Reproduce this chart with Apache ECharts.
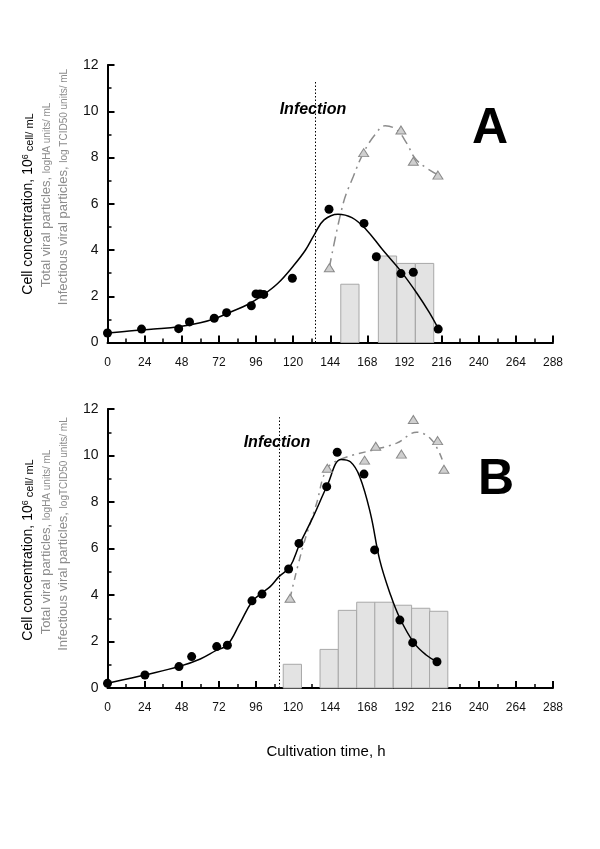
<!DOCTYPE html>
<html>
<head>
<meta charset="utf-8">
<script src="https://cdn.jsdelivr.net/npm/echarts@6/dist/echarts.min.js"></script>
<style>
html,body{margin:0;padding:0;background:#fff;}
#chart{width:600px;height:849px;}
</style>
</head>
<body>
<div id="chart"></div>
<script>
// ---- Axis settings ----
const X_MIN = 0, X_MAX = 288, X_STEP = 24;
const Y_MIN = 0, Y_MAX = 12, Y_STEP = 2;

// ---- Panel A ----
const cellTimeA = [0, 22, 46, 53, 69, 77, 93, 96, 98.6, 101, 119.5, 143.2, 165.8, 173.8, 189.7, 197.7, 213.8];
const cellA     = [0.41, 0.58, 0.60, 0.89, 1.05, 1.29, 1.59, 2.10, 2.10, 2.08, 2.78, 5.76, 5.15, 3.71, 2.98, 3.04, 0.58];
const fitTimeA  = [0, 14, 30, 46, 60, 70, 80, 90, 100, 110, 120, 128, 134, 140, 149, 158, 167, 178, 189, 200, 208, 214];
const fitA      = [0.41, 0.5, 0.58, 0.68, 0.85, 1.05, 1.33, 1.62, 2.03, 2.55, 3.3, 4.0, 4.7, 5.3, 5.55, 5.4, 4.9, 4.0, 3.14, 2.13, 1.3, 0.58];
const virTimeA  = [143.4, 165.6, 189.7, 197.7, 213.6];
const virA      = [3.23, 8.21, 9.19, 7.84, 7.24];
const virFitTimeA = [143.4, 152.4, 158.9, 165.6, 172.9, 179.4, 186.9, 193.4, 198.8, 206.3, 213.6];
const virFitA     = [3.23, 6.02, 7.18, 8.22, 8.98, 9.37, 9.2, 8.62, 7.97, 7.54, 7.25];
const barTimeA  = [156.7, 181, 193, 205];
const barA      = [2.52, 3.74, 3.42, 3.42];
const infectionA = 134.1, infectionTopA = 11.3;

// ---- Panel B ----
const cellTimeB = [0, 24.2, 46.2, 54.4, 70.6, 77.5, 93.4, 99.9, 117.1, 123.8, 141.7, 148.5, 165.8, 172.7, 189, 197.3, 213];
const cellB     = [0.2, 0.56, 0.92, 1.35, 1.78, 1.84, 3.75, 4.04, 5.12, 6.22, 8.66, 10.14, 9.2, 5.94, 2.92, 1.95, 1.13];
const fitTimeB  = [0, 14, 24, 46, 60, 70.6, 77.5, 85.6, 93.4, 100, 105, 111, 118, 124, 133, 142, 151, 157, 163, 170, 176, 183, 189, 198, 206, 213];
const fitB      = [0.2, 0.41, 0.56, 0.92, 1.25, 1.63, 1.85, 2.78, 3.71, 4.1, 4.35, 4.8, 5.22, 6.15, 7.37, 8.7, 9.83, 9.73, 9.1, 7.5, 5.5, 4.0, 3.0, 1.95, 1.42, 1.13];
const virTimeB  = [118, 142.1, 166.2, 173.4, 190, 197.7, 213.4, 217.5];
const virB      = [3.86, 9.45, 9.8, 10.4, 10.06, 11.55, 10.64, 9.41];
const virFitTimeB = [118, 126, 135, 142.1, 152.4, 171.8, 186.9, 199.9, 209.6, 216.5];
const virFitB     = [3.86, 6.0, 7.9, 9.45, 9.88, 10.24, 10.53, 11.0, 10.67, 9.8];
const barTimeB  = [119.5, 143.3, 155.1, 167, 178.7, 190.7, 202.5, 214.1];
const barB      = [1.02, 1.66, 3.34, 3.69, 3.69, 3.56, 3.43, 3.30];
const infectionB = 110.9, infectionTopB = 11.65;

const BAR_HALF = 5.9; // hours
const FONT = '"Liberation Sans", Arial, sans-serif';
const GRAY = '#8c8c8c';

const zip = (a, b) => a.map((v, i) => [v, b[i]]);

function xAxis(idx) {
  return {
    type: 'value', gridIndex: idx, min: X_MIN, max: X_MAX, interval: X_STEP,
    axisLine: { show: true, onZero: false, lineStyle: { color: '#000', width: 2 } },
    axisTick: { show: true, inside: true, length: 7, lineStyle: { color: '#000', width: 2 } },
    minorTick: { show: true, splitNumber: 2, length: 4, lineStyle: { color: '#000', width: 1.5 } },
    axisLabel: { color: '#111', fontSize: 12, fontFamily: FONT, margin: 14 },
    splitLine: { show: false }
  };
}
function yAxis(idx) {
  return {
    type: 'value', gridIndex: idx, min: Y_MIN, max: Y_MAX, interval: Y_STEP,
    axisLine: { show: true, onZero: false, lineStyle: { color: '#000', width: 2 } },
    axisTick: { show: true, inside: true, length: 7, lineStyle: { color: '#000', width: 2 } },
    minorTick: { show: true, splitNumber: 2, length: 4, lineStyle: { color: '#000', width: 1.5 } },
    axisLabel: { color: '#111', fontSize: 14, fontFamily: FONT, margin: 9 },
    splitLine: { show: false }
  };
}

function barSeries(idx, t, v) {
  return {
    type: 'custom', xAxisIndex: idx, yAxisIndex: idx, z: 1,
    data: zip(t, v),
    encode: { x: 0, y: 1 },
    renderItem: function (params, api) {
      const c = api.value(0), val = api.value(1);
      const p1 = api.coord([c - BAR_HALF, val]);
      const p0 = api.coord([c + BAR_HALF, 0]);
      return {
        type: 'rect',
        shape: { x: p1[0], y: p1[1], width: p0[0] - p1[0], height: p0[1] - p1[1] },
        style: { fill: '#e3e3e3', stroke: '#a8a8a8', lineWidth: 1 }
      };
    }
  };
}
function fitLine(idx, t, v) {
  return {
    type: 'line', xAxisIndex: idx, yAxisIndex: idx, z: 3, smooth: 0.4,
    showSymbol: false, symbol: 'none', data: zip(t, v),
    lineStyle: { color: '#000', width: 1.5 }
  };
}
function virLine(idx, t, v, dash, inf, infTop) {
  return {
    type: 'line', xAxisIndex: idx, yAxisIndex: idx, z: 2, smooth: 0.4,
    showSymbol: false, symbol: 'none', data: zip(t, v),
    lineStyle: { color: GRAY, width: 1.5, type: dash },
    markLine: {
      silent: true, symbol: ['none', 'none'], label: { show: false },
      lineStyle: { color: '#000', width: 1, type: [1.5, 2] },
      data: [[{ coord: [inf, 0] }, { coord: [inf, infTop] }]]
    }
  };
}
function cellPts(idx, t, v) {
  return {
    type: 'scatter', xAxisIndex: idx, yAxisIndex: idx, z: 5,
    symbol: 'circle', symbolSize: 9, data: zip(t, v),
    itemStyle: { color: '#000', opacity: 1 }
  };
}
function virPts(idx, t, v) {
  return {
    type: 'scatter', xAxisIndex: idx, yAxisIndex: idx, z: 4,
    symbol: 'triangle', symbolSize: [10, 8], data: zip(t, v),
    itemStyle: { color: '#cfcfcf', borderColor: '#8a8a8a', borderWidth: 1, opacity: 1 }
  };
}

function yTitle(cx, cy, main, small, color, mainSize, smallSize, sup) {
  let text = '{a|' + main + '}';
  if (sup) text += '{s|' + sup + '}';
  text += '{b|' + small + '}';
  return {
    type: 'text', x: cx, y: cy, rotation: Math.PI / 2,
    style: {
      text: text, align: 'center', verticalAlign: 'middle',
      textAlign: 'center', textVerticalAlign: 'middle',
      rich: {
        a: { fontSize: mainSize, fontFamily: FONT, fill: color, color: color, verticalAlign: 'bottom' },
        s: { fontSize: smallSize - 2, fontFamily: FONT, fill: color, color: color, verticalAlign: 'top' },
        b: { fontSize: smallSize, fontFamily: FONT, fill: color, color: color, verticalAlign: 'bottom', padding: [2, 0, 0, 0] }
      }
    }
  };
}
function plainText(x, y, text, font, color) {
  return {
    type: 'text', x: x, y: y,
    style: { text: text, font: font, fill: color || '#000', align: 'center', verticalAlign: 'middle',
             textAlign: 'center', textVerticalAlign: 'middle' }
  };
}

const chart = echarts.init(document.getElementById('chart'), null, { renderer: 'canvas' });
chart.setOption({
  backgroundColor: '#fff',
  animation: false,
  grid: [
    { left: 107.5, top: 65, width: 445.5, height: 277.5 },
    { left: 107.5, top: 409, width: 445.5, height: 279 }
  ],
  xAxis: [xAxis(0), xAxis(1)],
  yAxis: [yAxis(0), yAxis(1)],
  series: [
    barSeries(0, barTimeA, barA),
    virLine(0, virFitTimeA, virFitA, [10, 5, 2, 5], infectionA, infectionTopA),
    fitLine(0, fitTimeA, fitA),
    virPts(0, virTimeA, virA),
    cellPts(0, cellTimeA, cellA),
    barSeries(1, barTimeB, barB),
    virLine(1, virFitTimeB, virFitB, [7, 5, 2, 5], infectionB, infectionTopB),
    fitLine(1, fitTimeB, fitB),
    virPts(1, virTimeB, virB),
    cellPts(1, cellTimeB, cellB)
  ],
  graphic: [
    yTitle(28, 204, 'Cell concentration, 10', ' cell/ mL', '#000', 14, 11, '6'),
    yTitle(46, 195, 'Total viral particles, ', 'logHA units/ mL', GRAY, 13, 10),
    yTitle(63, 187, 'Infectious viral particles, ', 'log TCID50 units/ mL', GRAY, 13, 10),
    yTitle(28, 550, 'Cell concentration, 10', ' cell/ mL', '#000', 14, 11, '6'),
    yTitle(46, 542, 'Total viral particles, ', 'logHA units/ mL', GRAY, 13, 10),
    yTitle(63, 534, 'Infectious viral particles, ', 'logTCID50 units/ mL', GRAY, 13, 10),
    plainText(313, 110, 'Infection', 'italic bold 16px ' + FONT),
    plainText(277, 443, 'Infection', 'italic bold 16px ' + FONT),
    plainText(490, 129, 'A', 'bold 50px ' + FONT),
    plainText(496, 480, 'B', 'bold 50px ' + FONT),
    plainText(326, 752, 'Cultivation time, h', '15px ' + FONT)
  ]
});
</script>
</body>
</html>
